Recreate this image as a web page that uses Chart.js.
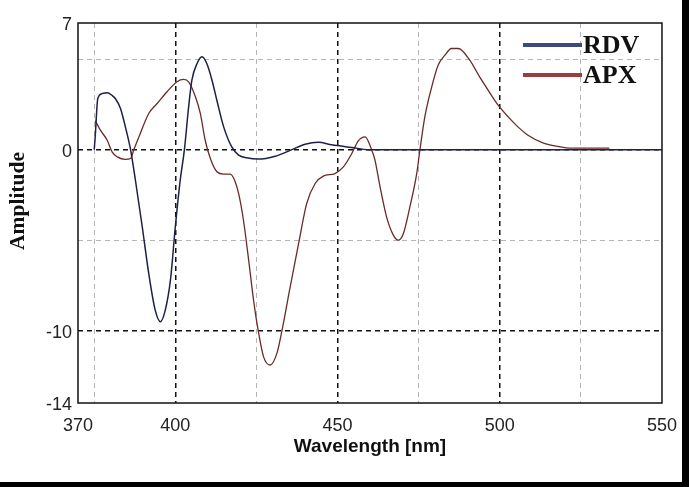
<!DOCTYPE html>
<html>
<head>
<meta charset="utf-8">
<script src="https://cdn.jsdelivr.net/npm/chart.js@4.4.1/dist/chart.umd.min.js"></script>
<style>
  html, body { margin: 0; padding: 0; background: #000; width: 689px; height: 487px; overflow: hidden; }
  #wrap { position: absolute; left: 0; top: 0; width: 682px; height: 482px; background: #fff; }
  #c { position: absolute; left: 0; top: 0; display: block; }
</style>
</head>
<body>
<div id="wrap"></div>
<canvas id="c" width="689" height="487"></canvas>
<script>
// ---- data ----
const RDV_nm  = [375, 375.3, 376.1, 377.5, 379, 380.5, 381.5, 383.1, 384.6, 386.2, 387.7, 389.8, 391.8, 393.8, 395.4, 396.9, 398.5, 400, 401.5, 402.8, 404.1, 405.1, 406.7, 408.2, 409.7, 411.3, 412.8, 414.9, 417.4, 419.5, 422, 425.6, 430.8, 435.9, 440, 444.1, 448.2, 454.4, 459.5, 500, 550];
const RDV_amp = [0, 0.7, 2.83, 3.1, 3.14, 3.0, 2.83, 2.28, 1.26, 0, -1.69, -4.26, -6.84, -8.87, -9.51, -8.87, -7.2, -4.26, -1.69, 0, 2.37, 3.84, 4.76, 5.13, 4.76, 3.84, 2.73, 1.26, 0.15, -0.3, -0.45, -0.52, -0.36, 0, 0.3, 0.41, 0.27, 0.12, 0, 0, 0];

const APX_nm  = [375.3, 376.9, 379, 380.5, 382.1, 384.6, 386.2, 387.2, 389.2, 391.8, 394.4, 397.4, 400.5, 402.6, 404.1, 406.2, 407.7, 409.2, 410.8, 412.8, 414.9, 416.9, 418.3, 419.5, 421, 422.6, 424.1, 425.6, 427.2, 429.2, 431.3, 432.8, 435.4, 438, 440.5, 443.1, 445.6, 449.2, 451.8, 454.4, 456.4, 458.5, 460.5, 461.5, 463.1, 465.1, 467.2, 468.7, 470.3, 472.3, 474.4, 475.4, 476.9, 478.5, 481, 483.1, 485.1, 487.2, 490.8, 493.8, 496.4, 499.5, 502.6, 505.6, 508.7, 513.3, 517.4, 520.5, 524.6, 533.8];
const APX_amp = [1.6, 1.08, 0.52, -0.12, -0.4, -0.54, -0.49, 0, 0.9, 2.0, 2.55, 3.19, 3.75, 3.88, 3.75, 2.92, 2.0, 0.52, -0.49, -1.22, -1.35, -1.35, -1.7, -2.42, -3.9, -6.1, -8.3, -10.06, -11.45, -11.9, -11.26, -10.06, -7.58, -5.18, -2.97, -1.87, -1.46, -1.32, -0.95, -0.21, 0.49, 0.71, 0, -0.55, -2.05, -3.71, -4.72, -5.0, -4.63, -3.16, -1.32, 0, 1.81, 3.1, 4.67, 5.22, 5.59, 5.59, 4.94, 4.02, 3.29, 2.46, 1.81, 1.26, 0.8, 0.38, 0.19, 0.1, 0.08, 0.08];

const X_GRID   = [370, 375, 400, 425, 450, 475, 500, 525, 550];
const X_LABELS = [370, 400, 450, 500, 550];
const X_DARK   = [400, 450, 500];
const Y_GRID   = [-14, -10, -5, 0, 5, 7];
const Y_LABELS = [-14, -10, 0, 7];
const Y_DARK   = [-10, 0];

const SERIES_NAMES = ['RDV', 'APX'];

// ---- chart ----
const tickFont = { family: 'Liberation Sans, Arial, sans-serif', size: 18 };

function gridColor(dark, edges) {
  return (c) => {
    const v = c.tick && c.tick.value;
    if (edges.includes(v)) return 'rgba(0,0,0,0)';
    return dark.includes(v) ? '#111111' : '#b5b5b5';
  };
}
function gridWidth(dark) {
  return (c) => (dark.includes(c.tick && c.tick.value) ? 1.5 : 1);
}

const framePlugin = {
  id: 'frame',
  afterDraw(chart) {
    const { ctx, chartArea: a } = chart;
    ctx.save();
    ctx.strokeStyle = '#111';
    ctx.lineWidth = 1.5;
    ctx.strokeRect(a.left, a.top, a.right - a.left, a.bottom - a.top);
    // y-axis title
    ctx.translate(18.5, 201);
    ctx.rotate(-Math.PI / 2);
    ctx.fillStyle = '#111';
    ctx.font = 'bold 21.5px "Liberation Serif", "Times New Roman", serif';
    ctx.textAlign = 'center';
    ctx.textBaseline = 'middle';
    ctx.fillText('Amplitude', 0, 0);
    ctx.restore();
  }
};

const legendPlugin = {
  id: 'customLegend',
  afterDraw(chart, args, opts) {
    const { ctx } = chart;
    ctx.save();
    chart.data.datasets.forEach((ds, i) => {
      const y = opts.y0 + i * opts.gap;
      ctx.strokeStyle = opts.colors[i];
      ctx.lineWidth = 4;
      ctx.beginPath();
      ctx.moveTo(opts.x0, y);
      ctx.lineTo(opts.x1, y);
      ctx.stroke();
      ctx.fillStyle = '#111';
      ctx.font = 'bold 26px "Liberation Serif", "Times New Roman", serif';
      ctx.textAlign = 'left';
      ctx.textBaseline = 'middle';
      ctx.fillText(ds.label, opts.x1 + 1, y + 1);
    });
    ctx.restore();
  }
};

new Chart(document.getElementById('c'), {
  type: 'line',
  data: {
    datasets: [
      {
        label: SERIES_NAMES[0],
        data: RDV_nm.map((x, i) => ({ x, y: RDV_amp[i] })),
        borderColor: '#1d2048',
        borderWidth: 1.5,
        pointRadius: 0,
        cubicInterpolationMode: 'monotone',
        fill: false
      },
      {
        label: SERIES_NAMES[1],
        data: APX_nm.map((x, i) => ({ x, y: APX_amp[i] })),
        borderColor: '#6a2a2a',
        borderWidth: 1.3,
        pointRadius: 0,
        cubicInterpolationMode: 'monotone',
        fill: false
      }
    ]
  },
  options: {
    responsive: false,
    animation: false,
    events: [],
    layout: { padding: { left: 0, top: 23, right: 20, bottom: 0 } },
    plugins: {
      legend: { display: false },
      tooltip: { enabled: false },
      customLegend: { x0: 523, x1: 582, y0: 45, gap: 30, colors: ['#3b4a82', '#9c3c3c'] }
    },
    scales: {
      x: {
        type: 'linear',
        min: 370,
        max: 550,
        afterBuildTicks: (s) => { s.ticks = X_GRID.map(v => ({ value: v })); },
        afterFit: (s) => { s.height = 84; },
        ticks: {
          autoSkip: false,
          maxRotation: 0,
          padding: 12,
          color: '#222',
          font: tickFont,
          callback: (v) => (X_LABELS.includes(v) ? String(v) : '')
        },
        grid: {
          drawTicks: false,
          color: gridColor(X_DARK, [370, 550]),
          lineWidth: gridWidth(X_DARK)
        },
        border: { display: false, dash: [5, 4] },
        title: {
          display: true,
          text: 'Wavelength [nm]',
          color: '#111',
          font: { family: 'Liberation Sans, Arial, sans-serif', size: 19, weight: 'bold' },
          padding: { top: 29, bottom: 29 }
        }
      },
      y: {
        type: 'linear',
        min: -14,
        max: 7,
        afterBuildTicks: (s) => { s.ticks = Y_GRID.map(v => ({ value: v })); },
        afterFit: (s) => { s.width = 78; },
        ticks: {
          autoSkip: false,
          padding: 6,
          labelOffset: 2,
          color: '#222',
          font: tickFont,
          callback: (v) => (Y_LABELS.includes(v) ? String(v) : '')
        },
        grid: {
          drawTicks: false,
          color: gridColor(Y_DARK, [-14, 7]),
          lineWidth: gridWidth(Y_DARK)
        },
        border: { display: false, dash: [5, 4] }
      }
    }
  },
  plugins: [framePlugin, legendPlugin]
});
</script>
</body>
</html>
